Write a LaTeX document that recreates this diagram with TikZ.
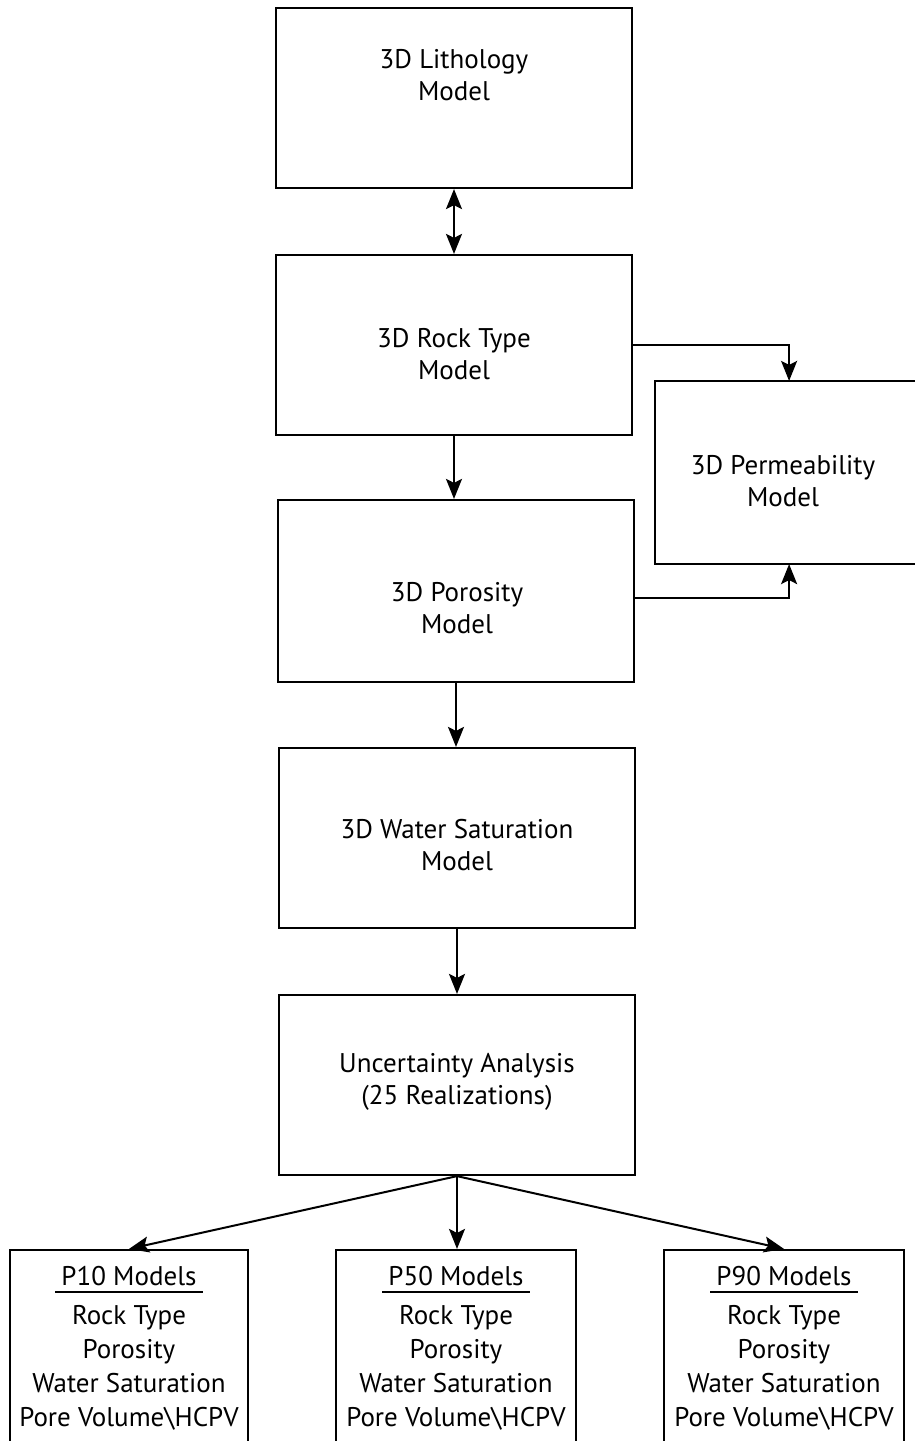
\documentclass[tikz,border=0pt]{standalone}
\usepackage{fontspec}
\setmainfont{PT Sans}
\usetikzlibrary{arrows.meta}
\tikzset{
  box/.style={draw, line width=1.1pt, inner sep=0pt, minimum width=178pt, minimum height=90pt},
  lbl/.style={align=center, font=\fontsize{13.5pt}{16pt}\selectfont},
  list/.style={align=center, font=\fontsize{13.5pt}{17pt}\selectfont},
  tip/.style={-{Stealth[length=10pt,width=8pt,inset=2pt]}},
  arr/.style={line width=1pt, tip},
}
\begin{document}
\begin{tikzpicture}[x=0.5pt,y=-0.5pt]
  \useasboundingbox (0,0) rectangle (915,1441);
  \clip (0,0) rectangle (915,1441);
  % model boxes
  \node [box] (litho) at (454,98) {};
  \node [lbl] (lithotxt) at (454,75) {3D Lithology\\Model};
  \node [box] (rock) at (454,345) {};
  \node [lbl] (rocktxt) at (454,354) {3D Rock Type\\Model};
  % open on the right: the page edge cuts it
  \node [box, draw=none, anchor=west, minimum width=160pt, minimum height=90.5pt] (perm) at (655,472.5) {};
  \draw [line width=1.1pt] (perm.north east) -- (perm.north west) -- (perm.south west) -- (perm.south east);
  \node [lbl] (permtxt) at (783,481) {3D Permeability\\Model};
  \node [box, minimum height=91pt] (poro) at (456,591) {};
  \node [lbl] (porotxt) at (457,608) {3D Porosity\\Model};
  \node [box] (water) at (457,838) {};
  \node [lbl] (watertxt) at (457,845) {3D Water Saturation\\Model};
  \node [box] (unc) at (457,1085) {};
  \node [lbl] (unctxt) at (457,1082) {Uncertainty Analysis\\(25 Realizations)};
  % result boxes
  \node [box, minimum width=119pt, minimum height=105pt] (p10) at (129,1355) {};
  \node [box, minimum width=120pt, minimum height=105pt] (p50) at (456,1355) {};
  \node [box, minimum width=120pt, minimum height=105pt] (p90) at (784,1355) {};
  \foreach \p/\n in {p10/P10,p50/P50,p90/P90} {
    \node [lbl, minimum width=73.5pt, inner xsep=1pt, inner ysep=3pt] (\p title) at (\p.north |- 0,1276) {\n\ Models};
    \draw [line width=1pt] (\p title.south west) -- (\p title.south east);
    \node [list, anchor=north] (\p list) at (\p.north |- 0,1298) {Rock Type\\Porosity\\Water Saturation\\Pore Volume\textbackslash HCPV};
  }
  % connectors
  \draw [arr, {Stealth[length=10pt,width=8pt,inset=2pt]}-{Stealth[length=10pt,width=8pt,inset=2pt]}] (litho.south) -- (litho.south |- rock.north);
  \draw [arr] (rock.south) -- (rock.south |- poro.north);
  \draw [arr] (rock.east) -| ([xshift=-13.5pt]perm.north);
  \draw [arr] ([yshift=-3.5pt]poro.east) -| ([xshift=-13.5pt]perm.south);
  \draw [arr] (poro.south) -- (poro.south |- water.north);
  \draw [arr] (water.south) -- (unc.north);
  \draw [arr] (unc.south) -- (p10.north);
  \draw [arr] (unc.south) -- (unc.south |- p50.north);
  \draw [arr] (unc.south) -- (p90.north);
\end{tikzpicture}
\end{document}
